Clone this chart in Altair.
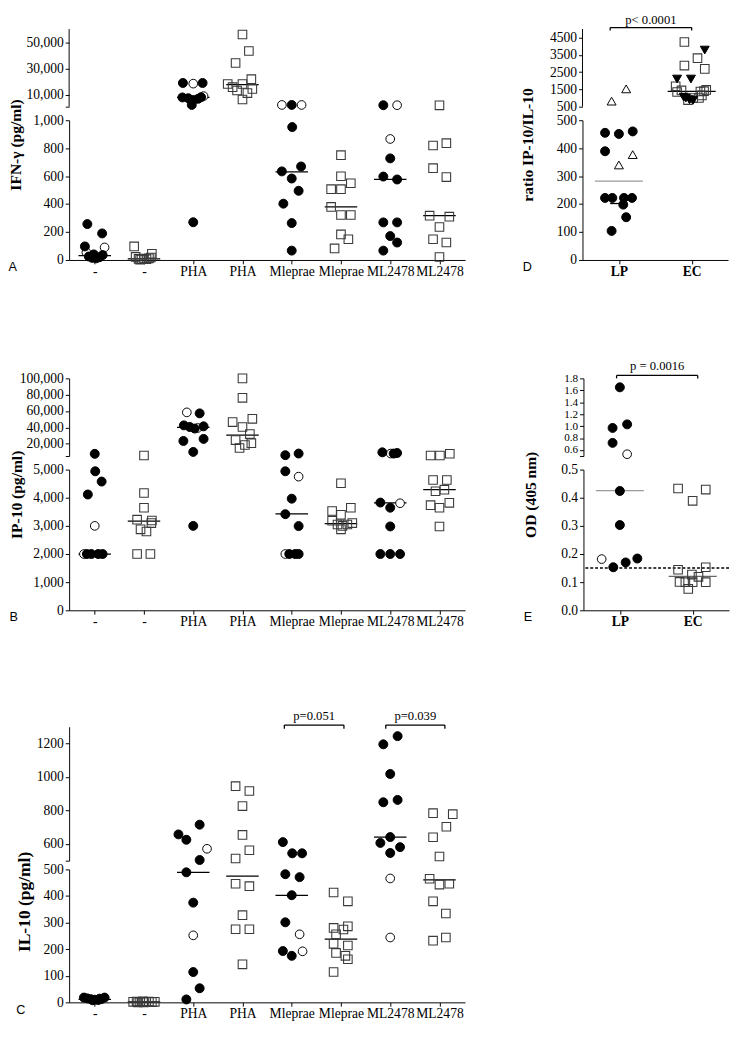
import json
import altair as alt
import pandas as pd

SERIF = "Liberation Serif"
SANS = "Liberation Sans"
SQ_COLOR = "#3a3a3a"

CATS8 = ["-", "-", "PHA", "PHA", "Mleprae", "Mleprae", "ML2478", "ML2478"]
CATS2 = ["LP", "EC"]

# ---------------- data: (group, jitter, value, marker) ----------------
A_points = [
    (0, -0.15, 257, "fill"), (0, -0.2, 97, "fill"), (0, 0.15, 190, "fill"), (0, -0.12, 25, "fill"),
    (0, -0.05, 15, "fill"), (0, 0.03, 12, "fill"), (0, 0.1, 20, "fill"), (0, 0.16, 35, "fill"),
    (0, -0.02, 40, "fill"), (0, -0.17, 55, "open"), (0, 0.2, 90, "open"),
    (1, -0.2, 97, "sq"), (1, 0.16, 45, "sq"), (1, -0.17, 22, "sq"), (1, -0.11, 8, "sq"), (1, -0.05, 5, "sq"),
    (1, 0.0, 10, "sq"), (1, 0.05, 6, "sq"), (1, 0.1, 12, "sq"), (1, 0.14, 18, "sq"), (1, -0.08, 3, "sq"),
    (2, -0.21, 19000, "fill"), (2, 0.19, 19000, "fill"), (2, -0.22, 8000, "fill"), (2, -0.1, 7400, "fill"),
    (2, 0.0, 6000, "fill"), (2, 0.1, 7000, "fill"), (2, 0.16, 8200, "fill"), (2, -0.03, 2300, "fill"),
    (2, 0.0, 18500, "open"), (2, 0.21, 9000, "open"), (2, 0.0, 270, "fill"),
    (3, 0.0, 55800, "sq"), (3, 0.13, 43300, "sq"), (3, -0.14, 34200, "sq"), (3, -0.3, 18200, "sq"),
    (3, 0.0, 18200, "sq"), (3, 0.18, 21900, "sq"), (3, -0.2, 15800, "sq"), (3, -0.11, 13300, "sq"),
    (3, 0.1, 11300, "sq"), (3, 0.2, 14500, "sq"), (3, 0.0, 6400, "sq"),
    (4, -0.2, 2300, "open"), (4, 0.0, 2300, "fill"), (4, 0.2, 2300, "open"), (4, 0.01, 951, "fill"),
    (4, 0.19, 669, "fill"), (4, -0.2, 634, "fill"), (4, 0.0, 583, "fill"), (4, 0.14, 495, "fill"),
    (4, -0.17, 403, "fill"), (4, 0.0, 264, "fill"), (4, 0.0, 67, "fill"),
    (5, 0.0, 750, "sq"), (5, 0.0, 599, "sq"), (5, 0.2, 549, "sq"), (5, -0.2, 507, "sq"), (5, 0.0, 507, "sq"),
    (5, -0.2, 380, "sq"), (5, 0.0, 322, "sq"), (5, 0.2, 322, "sq"), (5, 0.0, 183, "sq"), (5, 0.15, 148, "sq"),
    (5, -0.13, 83, "sq"),
    (6, -0.14, 2100, "fill"), (6, 0.14, 2100, "open"), (6, 0.0, 866, "open"), (6, 0.0, 727, "fill"),
    (6, -0.14, 597, "fill"), (6, 0.14, 576, "fill"), (6, -0.14, 269, "fill"), (6, 0.14, 269, "fill"),
    (6, 0.0, 171, "fill"), (6, 0.14, 125, "fill"), (6, -0.14, 67, "fill"),
    (7, 0.0, 2000, "sq"), (7, -0.13, 819, "sq"), (7, 0.14, 836, "sq"), (7, -0.13, 657, "sq"),
    (7, 0.14, 593, "sq"), (7, -0.2, 317, "sq"), (7, 0.2, 310, "sq"), (7, 0.0, 236, "sq"),
    (7, -0.13, 148, "sq"), (7, 0.14, 125, "sq"), (7, 0.0, 21, "sq"),
]
A_medians = [(0, 32), (1, 8), (2, 8000), (3, 17800), (4, 630), (5, 380), (6, 576), (7, 317)]

B_points = [
    (0, 0.0, 7650, "fill"), (0, 0.01, 4940, "fill"), (0, 0.14, 4575, "fill"), (0, -0.14, 4115, "fill"),
    (0, 0.0, 3000, "open"), (0, -0.22, 2000, "open"), (0, -0.16, 2000, "fill"), (0, -0.07, 2000, "fill"),
    (0, 0.07, 2000, "fill"), (0, 0.16, 2000, "fill"),
    (1, 0.0, 5600, "sq"), (1, 0.0, 4170, "sq"), (1, 0.0, 3646, "sq"), (1, -0.14, 3220, "sq"),
    (1, 0.16, 3190, "sq"), (1, -0.07, 2876, "sq"), (1, 0.05, 2800, "sq"), (1, 0.15, 3100, "sq"),
    (1, -0.14, 2000, "sq"), (1, 0.13, 2000, "sq"),
    (2, -0.13, 58400, "open"), (2, 0.13, 57200, "fill"), (2, -0.19, 42500, "fill"), (2, -0.07, 40500, "fill"),
    (2, 0.03, 38600, "fill"), (2, 0.21, 41300, "fill"), (2, 0.09, 39300, "open"), (2, -0.2, 23400, "fill"),
    (2, 0.21, 25900, "fill"), (2, 0.0, 10000, "fill"), (2, 0.0, 3000, "fill"),
    (3, 0.0, 100000, "sq"), (3, 0.0, 76200, "sq"), (3, -0.2, 46500, "sq"), (3, 0.2, 50500, "sq"),
    (3, 0.0, 40500, "sq"), (3, 0.15, 31800, "sq"), (3, -0.14, 24500, "sq"), (3, 0.05, 18500, "sq"),
    (3, -0.06, 14800, "sq"), (3, 0.18, 20700, "sq"),
    (4, -0.13, 6000, "fill"), (4, 0.14, 8000, "fill"), (4, -0.13, 4940, "fill"), (4, 0.14, 4750, "open"),
    (4, 0.0, 3966, "fill"), (4, -0.13, 3416, "fill"), (4, 0.14, 2993, "fill"), (4, -0.13, 2000, "open"),
    (4, -0.05, 2000, "fill"), (4, 0.07, 2000, "fill"), (4, 0.14, 2000, "fill"),
    (5, 0.0, 4516, "sq"), (5, -0.18, 3530, "sq"), (5, 0.0, 3392, "sq"), (5, 0.2, 3646, "sq"),
    (5, -0.18, 3186, "sq"), (5, -0.07, 3048, "sq"), (5, 0.03, 3000, "sq"), (5, 0.13, 3048, "sq"),
    (5, 0.23, 3100, "sq"), (5, 0.0, 2876, "sq"),
    (6, 0.01, 8000, "open"), (6, -0.16, 9500, "fill"), (6, 0.07, 8000, "fill"), (6, 0.14, 8700, "fill"),
    (6, -0.2, 3829, "fill"), (6, 0.0, 3646, "fill"), (6, 0.2, 3805, "open"), (6, 0.0, 2980, "fill"),
    (6, -0.2, 2000, "fill"), (6, 0.0, 2000, "fill"), (6, 0.2, 2000, "fill"),
    (7, -0.18, 5600, "sq"), (7, 0.01, 5600, "sq"), (7, 0.21, 7700, "sq"), (7, -0.13, 4630, "sq"),
    (7, 0.15, 4630, "sq"), (7, -0.08, 4232, "sq"), (7, 0.1, 4287, "sq"), (7, -0.18, 3737, "sq"),
    (7, 0.0, 3646, "sq"), (7, 0.2, 3818, "sq"), (7, 0.0, 2980, "sq"),
]
B_medians = [(0, 2000), (1, 3165), (2, 40000), (3, 30600), (4, 3427), (5, 3083), (6, 3818), (7, 4287)]

C_points = [
    (0, -0.22, 18, "fill"), (0, -0.15, 15, "fill"), (0, -0.08, 12, "fill"), (0, 0.0, 10, "fill"),
    (0, 0.07, 9, "fill"), (0, 0.13, 12, "fill"), (0, 0.2, 18, "fill"), (0, -0.04, 8, "fill"), (0, 0.1, 14, "fill"),
    (1, -0.22, 2, "sq"), (1, -0.15, 3, "sq"), (1, -0.08, 1, "sq"), (1, -0.02, 4, "sq"), (1, 0.04, 2, "sq"),
    (1, 0.1, 3, "sq"), (1, 0.16, 1, "sq"), (1, 0.22, 2, "sq"), (1, 0.0, 0, "sq"), (1, -0.12, 0, "sq"),
    (2, -0.3, 657, "fill"), (2, -0.14, 625, "fill"), (2, 0.13, 715, "fill"), (2, 0.28, 571, "open"),
    (2, 0.13, 504, "fill"), (2, -0.14, 489, "fill"), (2, 0.0, 252, "open"), (2, 0.0, 375, "fill"),
    (2, 0.0, 114, "fill"), (2, 0.13, 53, "fill"), (2, -0.14, 11, "fill"),
    (3, -0.14, 945, "sq"), (3, 0.14, 916, "sq"), (3, 0.0, 826, "sq"), (3, 0.0, 654, "sq"),
    (3, -0.14, 513, "sq"), (3, 0.14, 562, "sq"), (3, -0.14, 446, "sq"), (3, 0.14, 437, "sq"),
    (3, 0.0, 328, "sq"), (3, -0.14, 275, "sq"), (3, 0.14, 275, "sq"), (3, 0.0, 143, "sq"),
    (4, -0.18, 611, "fill"), (4, 0.01, 544, "fill"), (4, 0.21, 544, "fill"), (4, -0.13, 482, "fill"),
    (4, 0.16, 471, "fill"), (4, 0.0, 403, "fill"), (4, -0.13, 301, "fill"), (4, 0.16, 256, "open"),
    (4, -0.18, 193, "fill"), (4, 0.0, 175, "fill"), (4, 0.22, 192, "open"),
    (5, -0.15, 413, "sq"), (5, 0.14, 380, "sq"), (5, -0.15, 280, "sq"), (5, 0.05, 274, "sq"),
    (5, 0.14, 286, "sq"), (5, -0.1, 256, "sq"), (5, -0.15, 220, "sq"), (5, 0.14, 214, "sq"),
    (5, -0.1, 186, "sq"), (5, 0.09, 175, "sq"), (5, 0.14, 162, "sq"), (5, -0.15, 114, "sq"),
    (6, -0.14, 1195, "fill"), (6, 0.15, 1244, "fill"), (6, 0.0, 1018, "fill"), (6, -0.14, 849, "fill"),
    (6, 0.15, 863, "fill"), (6, 0.0, 641, "fill"), (6, -0.2, 606, "fill"), (6, 0.2, 581, "fill"),
    (6, 0.0, 546, "fill"), (6, 0.0, 466, "open"), (6, 0.0, 244, "open"),
    (7, -0.13, 784, "sq"), (7, 0.27, 778, "sq"), (7, 0.14, 703, "sq"), (7, -0.13, 640, "sq"),
    (7, 0.0, 525, "sq"), (7, -0.2, 465, "sq"), (7, 0.0, 443, "sq"), (7, 0.2, 446, "sq"),
    (7, -0.13, 380, "sq"), (7, 0.13, 334, "sq"), (7, -0.13, 232, "sq"), (7, 0.13, 244, "sq"),
]
C_medians = [(0, 11), (1, 2), (2, 489), (3, 475), (4, 402), (5, 238), (6, 641), (7, 461)]
C_brackets = [(3.85, 5.06, "p=0.051"), (5.91, 7.11, "p=0.039")]

D_points = [
    (0, -0.19, 455, "fill"), (0, 0.0, 451, "fill"), (0, 0.19, 460, "fill"), (0, -0.19, 389, "fill"),
    (0, -0.19, 222, "fill"), (0, -0.09, 222, "fill"), (0, 0.07, 222, "fill"), (0, 0.18, 222, "fill"),
    (0, 0.06, 198, "fill"), (0, 0.1, 153, "fill"), (0, -0.1, 104, "fill"),
    (0, 0.0, 340, "tri"), (0, 0.19, 377, "tri"), (0, -0.1, 820, "tri"), (0, 0.1, 1530, "tri"),
    (1, -0.1, 4250, "sq"), (1, -0.1, 2880, "sq"), (1, 0.08, 3310, "sq"), (1, 0.18, 2690, "sq"),
    (1, -0.22, 1680, "sq"), (1, -0.14, 1440, "sq"), (1, -0.2, 1350, "sq"), (1, 0.12, 1380, "sq"),
    (1, 0.2, 1470, "sq"), (1, 0.02, 1000, "sq"), (1, 0.1, 1000, "sq"), (1, 0.14, 1150, "sq"),
    (1, -0.05, 880, "sq"), (1, 0.17, 1400, "sq"),
    (1, -0.2, 2100, "tridown"), (1, -0.01, 2100, "tridown"), (1, 0.18, 3780, "tridown"),
    (1, -0.08, 1000, "tridown"), (1, -0.03, 900, "tridown"), (1, 0.02, 870, "tridown"),
    (1, -0.11, 1050, "tridown"),
]
D_medians = [(0, 282), (1, 1380)]
D_short_medians = [(0, 202)]
D_brackets = [(-0.12, 1.0, "p< 0.0001")]

E_points = [
    (0, 0.0, 1.65, "fill"), (0, -0.1, 0.97, "fill"), (0, 0.1, 1.03, "fill"), (0, -0.1, 0.72, "fill"),
    (0, 0.1, 0.53, "open"), (0, 0.0, 0.424, "fill"), (0, 0.0, 0.303, "fill"), (0, -0.09, 0.153, "fill"),
    (0, 0.08, 0.170, "fill"), (0, 0.24, 0.184, "fill"), (0, -0.25, 0.182, "open"),
    (1, -0.2, 0.433, "sq"), (1, 0.18, 0.429, "sq"), (1, 0.0, 0.389, "sq"), (1, -0.2, 0.144, "sq"),
    (1, 0.18, 0.153, "sq"), (1, -0.01, 0.127, "sq"), (1, 0.08, 0.119, "sq"), (1, -0.18, 0.101, "sq"),
    (1, 0.0, 0.100, "sq"), (1, 0.18, 0.100, "sq"), (1, -0.06, 0.076, "sq"), (1, -0.1, 0.100, "sq"),
]
E_medians = [(0, 0.425), (1, 0.121)]
E_threshold = [0.15]
E_brackets = [(-0.045, 1.07, "p = 0.0016")]

# ---------------- styling ----------------
MARKS = [
    ("sq", dict(shape="square", filled=False, stroke=SQ_COLOR, size=78, strokeWidth=1.1)),
    ("tri", dict(shape="triangle-up", filled=False, stroke="black", size=85, strokeWidth=1)),
    ("open", dict(shape="circle", filled=True, fill="white", stroke="black", size=80, strokeWidth=1)),
    ("fill", dict(shape="circle", filled=True, fill="black", stroke="black", size=85, strokeWidth=1)),
    ("tridown", dict(shape="triangle-down", filled=True, fill="black", stroke="black", size=85, strokeWidth=1)),
]


def y_axis(ticks, fmt, hide_min=None, title=None, extent=None, pad=None, title_y=None, fsize=14,
           tsize=16, domain=True):
    kw = dict(values=ticks, format=fmt, labelFont=SERIF, labelFontSize=fsize, labelColor="black",
              tickSize=4, tickColor="black", domainColor="black", labelPadding=2, grid=False,
              labelFlush=False, labelOverlap=False, domain=domain)
    if hide_min is not None:
        kw["labelExpr"] = f"datum.value == {hide_min} ? '' : datum.label"
    if title:
        kw.update(title=title, titleFont=SERIF, titleFontSize=tsize, titleFontWeight="bold",
                  titleColor="black", titlePadding=pad, minExtent=extent, maxExtent=extent,
                  titleY=title_y)
    else:
        kw["title"] = None
    return alt.Axis(**kw)


def x_axis(cats, letter, letter_x, bold):
    return alt.Axis(values=list(range(len(cats))), labelExpr=f"{json.dumps(cats)}[datum.value]",
                    labelFont=SERIF, labelFontSize=14, labelFontWeight="bold" if bold else "normal",
                    labelColor="black", labelAngle=0, labelPadding=1, tickSize=4, tickColor="black",
                    domainColor="black", grid=False, labelOverlap=False, labelFlush=False,
                    title=letter, titleFont=SANS, titleFontSize=13, titleFontWeight="normal",
                    titleColor="black", titleX=letter_x, titleY=11, titleAlign="left",
                    titleBaseline="alphabetic")


def panel(points, medians, cfg, short_medians=(), brackets=(), threshold=()):
    pts = pd.DataFrame(points, columns=["g", "dx", "v", "kind"])
    pts["x"] = pts["g"] + pts["dx"]
    med = pd.DataFrame(medians, columns=["g", "v"])
    med["x1"] = med["g"] - 0.33
    med["x2"] = med["g"] + 0.33
    med["c"] = [cfg.get("mcolor", {}).get(g, "black") for g in med["g"]]
    if short_medians:
        sm = pd.DataFrame(short_medians, columns=["g", "v"])
        sm["x1"] = sm["g"] - 0.12
        sm["x2"] = sm["g"] + 0.02
        sm["c"] = "black"
        med = pd.concat([med, sm], ignore_index=True)
    split = cfg["low_dom"][1]
    xs = alt.Scale(domain=cfg["xdom"], nice=False, zero=False)
    ext = cfg.get("ext_px", 0)
    segs = []
    for part in ("up", "low"):
        if part == "up":
            sel = pts[pts.v > split]
            msel = med[med.v > split]
            lo, hi = cfg["up_dom"]
            upp = (hi - lo) / cfg["up_h"]
            ydom, h = [lo, hi + ext * upp], cfg["up_h"] + ext
            yax = y_axis(cfg["up_ticks"], cfg["up_fmt"], hide_min=cfg.get("up_hide"),
                         fsize=cfg.get("up_fsize", 14), domain=(ext == 0))
            xax = None
        else:
            sel = pts[pts.v <= split]
            msel = med[med.v <= split]
            ydom, h = cfg["low_dom"], cfg["low_h"]
            ty = cfg.get("title_y", (-(cfg["up_h"] + cfg["gap"]) + cfg["low_h"]) / 2)
            yax = y_axis(cfg["low_ticks"], cfg["low_fmt"], title=cfg["title"], extent=cfg["extent"],
                         pad=cfg["tpad"], title_y=ty, tsize=cfg.get("tsize", 16))
            xax = x_axis(cfg["cats"], cfg["letter"], cfg["letter_x"], cfg.get("bold", False))
        ys = alt.Scale(domain=ydom, nice=False, zero=False)

        def X(f):
            return alt.X(f + ":Q", scale=xs, axis=xax)

        def Y(f):
            return alt.Y(f + ":Q", scale=ys, axis=yax)

        layers = []
        if part == "up" and ext:
            # the visible axis line only covers the real segment range
            adf = pd.DataFrame([dict(x=cfg["xdom"][0], y1=lo, y2=hi)])
            layers.append(alt.Chart(adf).mark_rule(color="black", strokeWidth=1)
                          .encode(x=X("x"), y=Y("y1"), y2="y2:Q"))
        if part == "low" and threshold:
            layers.append(alt.Chart(pd.DataFrame({"v": list(threshold)}))
                          .mark_rule(color="black", strokeWidth=1.6, strokeDash=[3, 2])
                          .encode(y=Y("v")))
        if len(msel):
            layers.append(alt.Chart(msel).mark_rule(strokeWidth=1.3)
                          .encode(x=X("x1"), x2="x2:Q", y=Y("v"),
                                  color=alt.Color("c:N", scale=None, legend=None)))
        for kind, style in MARKS:
            d = sel[sel.kind == kind]
            if len(d):
                layers.append(alt.Chart(d).mark_point(opacity=1, **style)
                              .encode(x=X("x"), y=Y("v")))
        if part == "up":
            top = cfg["up_dom"][1]
            if brackets:
                rows, ticks = [], []
                for a, b, lab in brackets:
                    rows.append(dict(x1=a, x2=b, xc=(a + b) / 2, y=top + cfg["line_px"] * upp,
                                     yt=top + cfg["text_px"] * upp, label=lab))
                    for xx in (a, b):
                        ticks.append(dict(x=xx, y1=top + cfg["line_px"] * upp,
                                          y2=top - cfg["tick_px"] * upp))
                bdf, tdf = pd.DataFrame(rows), pd.DataFrame(ticks)
                layers.append(alt.Chart(bdf).mark_rule(color="black", strokeWidth=1.3)
                              .encode(x=X("x1"), x2="x2:Q", y=Y("y")))
                layers.append(alt.Chart(tdf).mark_rule(color="black", strokeWidth=1.3)
                              .encode(x=X("x"), y=Y("y1"), y2="y2:Q"))
                layers.append(alt.Chart(bdf).mark_text(font=SERIF, fontSize=13, color="black",
                                                       align="center", baseline="alphabetic")
                              .encode(x=X("xc"), y=Y("yt"), text="label:N"))
            if cfg.get("spacer_px"):
                sdf = pd.DataFrame([dict(x=sum(cfg["xdom"]) / 2, yt=top + cfg["spacer_px"] * upp,
                                         label="p")])
                layers.append(alt.Chart(sdf).mark_text(font=SERIF, fontSize=13, opacity=0,
                                                       baseline="alphabetic")
                              .encode(x=X("x"), y=Y("yt"), text="label:N"))
        segs.append(alt.layer(*layers).properties(width=cfg["width"], height=h))
    return alt.vconcat(*segs, spacing=cfg["gap"], bounds="flush")


cfgA = dict(cats=CATS8, xdom=[-0.52, 7.52], width=408,
            up_dom=[1000, 60000], up_ticks=[1000, 10000, 30000, 50000], up_fmt=",d", up_hide=1000, up_h=80,
            low_dom=[0, 1000], low_ticks=[0, 200, 400, 600, 800, 1000], low_fmt=",d", low_h=144,
            gap=14, title="IFN-γ (pg/ml)", extent=44, tpad=3, letter="A", letter_x=-63, ext_px=16)
cfgD = dict(cats=CATS2, xdom=[-0.5, 1.5], width=150, bold=True,
            up_dom=[500, 5000], up_ticks=[500, 1500, 2500, 3500, 4500], up_fmt="d", up_h=80,
            low_dom=[0, 500], low_ticks=[0, 100, 200, 300, 400, 500], low_fmt="d", low_h=144,
            gap=14, title="ratio IP-10/IL-10", extent=36, tpad=13, letter="D", letter_x=-62,
            text_px=5.5, line_px=1.5, tick_px=1.4, mcolor={0: "#9a9a9a"}, ext_px=16)
cfgB = dict(cats=CATS8, xdom=[-0.52, 7.52], width=408,
            up_dom=[5000, 100000], up_ticks=[5000, 20000, 40000, 60000, 80000, 100000], up_fmt=",d",
            up_hide=5000, up_h=80,
            low_dom=[0, 5000], low_ticks=[0, 1000, 2000, 3000, 4000, 5000], low_fmt=",d", low_h=145,
            gap=14, title="IP-10 (pg/ml)", extent=42, tpad=4, letter="B", letter_x=-62, spacer_px=8.5)
cfgE = dict(cats=CATS2, xdom=[-0.5, 1.5], width=150, bold=True,
            up_dom=[0.5, 1.8], up_ticks=[0.5, 0.6, 0.8, 1.0, 1.2, 1.4, 1.6, 1.8], up_fmt=".1f",
            up_hide=0.5, up_h=80, up_fsize=11.5,
            low_dom=[0, 0.5], low_ticks=[0, 0.1, 0.2, 0.3, 0.4, 0.5], low_fmt=".1f", low_h=145,
            gap=14, title="OD (405 nm)", extent=30, tpad=16, letter="E", letter_x=-62,
            text_px=8.5, line_px=3, tick_px=0, mcolor={0: "#9a9a9a", 1: "#666666"})
cfgC = dict(cats=CATS8, xdom=[-0.52, 7.52], width=408,
            up_dom=[500, 1300], up_ticks=[500, 600, 800, 1000, 1200], up_fmt="d", up_hide=500, up_h=138,
            low_dom=[0, 500], low_ticks=[0, 100, 200, 300, 400, 500], low_fmt="d", low_h=137,
            gap=9, title="IL-10 (pg/ml)", extent=30, tpad=7, tsize=18, title_y=33,
            letter="C", letter_x=-55, text_px=7, line_px=1.7, tick_px=2)

pA = panel(A_points, A_medians, cfgA)
pD = panel(D_points, D_medians, cfgD, short_medians=D_short_medians, brackets=D_brackets)
pB = panel(B_points, B_medians, cfgB)
pE = panel(E_points, E_medians, cfgE, brackets=E_brackets, threshold=E_threshold)
pC = panel(C_points, C_medians, cfgC, brackets=C_brackets)

row1 = alt.hconcat(pA, pD, spacing=56)
row2 = alt.hconcat(pB, pE, spacing=60)
top_rows = alt.concat(row1, row2, columns=1, spacing=84, align="none")
chart = alt.concat(top_rows, pC, columns=1, spacing=84, align="none")
chart = chart.properties(padding={"top": -10, "left": 0, "right": 0, "bottom": 0},
                         background="white").configure_view(stroke=None)

chart.save("out.html", embed_options={"renderer": "svg", "actions": False})
